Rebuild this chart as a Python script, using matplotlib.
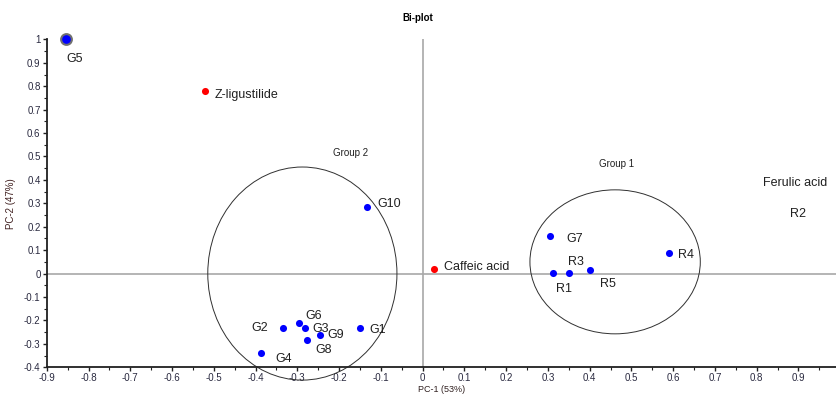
import matplotlib.pyplot as plt
import numpy as np
from matplotlib.patches import Ellipse
from matplotlib.ticker import MultipleLocator

plt.rcParams['font.family'] = ['Liberation Sans', 'DejaVu Sans']

# 样本得分 (PC-1, PC-2)
sample_names = ['G1', 'G2', 'G3', 'G4', 'G6', 'G7', 'G8', 'G9', 'G10',
                'R1', 'R3', 'R4', 'R5']
sample_x = [-0.150, -0.334, -0.281, -0.386, -0.297, 0.306, -0.277, -0.245, -0.133,
            0.312, 0.351, 0.591, 0.402]
sample_y = [-0.233, -0.233, -0.233, -0.340, -0.212, 0.162, -0.285, -0.262, 0.283,
            0.001, 0.001, 0.086, 0.014]
# 标签偏移（像素）
label_dx = [9, -15, 7, 14, 7, 16, 8, 7, 10, 11, 7, 9, 17]
label_dy = [-2, 0, -1, -6, 7, -3, -10, 0, 3, -16, 11, -2, -14]
label_ha = ['left', 'right', 'left', 'left', 'left', 'left', 'left', 'left', 'left',
            'center', 'center', 'left', 'center']

# 离群样本 G5
g5_x, g5_y = -0.855, 1.0

# 变量载荷
var_names = ['Z-ligustilide', 'Caffeic acid']
var_x = [-0.522, 0.028]
var_y = [0.781, 0.018]

# 分组椭圆: 中心, 宽, 高
groups = ['Group 1', 'Group 2']
group_cx = [0.461, -0.288]
group_cy = [0.05, 0.0]
group_w = [0.408, 0.453]
group_h = [0.615, 0.91]
group_lx = [0.465, -0.172]
group_ly = [0.468, 0.515]

# 刻度
xticks = np.round(np.arange(-0.9, 0.91, 0.1), 1) + 0.0
yticks = np.round(np.arange(-0.4, 1.01, 0.1), 1) + 0.0

fig = plt.figure(figsize=(8.36, 3.94), dpi=100)
ax = fig.add_axes([0.056, 0.068, 0.944, 0.832])

ax.axhline(0, color='#a8a8a8', lw=1.2, zorder=1)
ax.axvline(0, color='#a8a8a8', lw=1.2, zorder=1)

for cx, cy, w, h in zip(group_cx, group_cy, group_w, group_h):
    ax.add_patch(Ellipse((cx, cy), w, h, fill=False, ec='#303030', lw=0.7,
                         clip_on=False, zorder=2))
for name, lx, ly in zip(groups, group_lx, group_ly):
    ax.text(lx, ly, name, fontsize=7, ha='center', va='center', color='#202020')

ax.scatter(sample_x, sample_y, s=26, color='#0000ff', zorder=3, lw=0)
for n, x, y, dx, dy, ha in zip(sample_names, sample_x, sample_y, label_dx, label_dy, label_ha):
    ax.annotate(n, (x, y), xytext=(dx, dy), textcoords='offset pixels',
                ha=ha, va='center', fontsize=9, color='#202020')

ax.scatter([g5_x], [g5_y], s=60, color='#0000ff', ec='#707070', lw=1.5,
           zorder=4, clip_on=False)
ax.annotate('G5', (g5_x, g5_y), xytext=(9, -20), textcoords='offset pixels',
            ha='center', va='center', fontsize=9, color='#202020')

ax.scatter(var_x, var_y, s=26, color='#ff0000', zorder=3, lw=0)
for n, x, y in zip(var_names, var_x, var_y):
    ax.annotate(n, (x, y), xytext=(10, -4 if y > 0.5 else 2), textcoords='offset pixels',
                ha='left', va='center', fontsize=9, color='#202020')

ax.text(0.893, 0.386, 'Ferulic acid', fontsize=9, ha='center', va='center', color='#202020')
ax.text(0.90, 0.256, 'R2', fontsize=9, ha='center', va='center', color='#202020')

ax.set_xlim(-0.9, 0.99)
ax.set_ylim(-0.4, 1.0)
ax.xaxis.set_minor_locator(MultipleLocator(0.05))
ax.yaxis.set_minor_locator(MultipleLocator(0.05))
ax.set_xticks(xticks)
ax.set_xticklabels(['%g' % v for v in xticks])
ax.set_yticks(yticks)
ax.set_yticklabels(['%g' % v for v in yticks])
ax.tick_params(which='major', length=3, width=1, labelsize=7, colors='#202020',
               labelcolor='#2a2a40', pad=1.5)
ax.tick_params(which='minor', length=2, width=0.8, colors='#202020')

for s in ['top', 'right']:
    ax.spines[s].set_visible(False)
for s in ['left', 'bottom']:
    ax.spines[s].set_linewidth(1.3)
    ax.spines[s].set_color('#202020')

ax.set_xlabel('PC-1 (53%)', fontsize=6.5, color='#302020')
ax.xaxis.set_label_coords(0.5, -0.054)
ax.set_ylabel('PC-2 (47%)', fontsize=7, labelpad=6, color='#402020')
fig.text(0.5, 0.955, 'Bi-plot', fontsize=7, fontweight='bold', ha='center', va='center')

fig.savefig('out.png', dpi=100)
